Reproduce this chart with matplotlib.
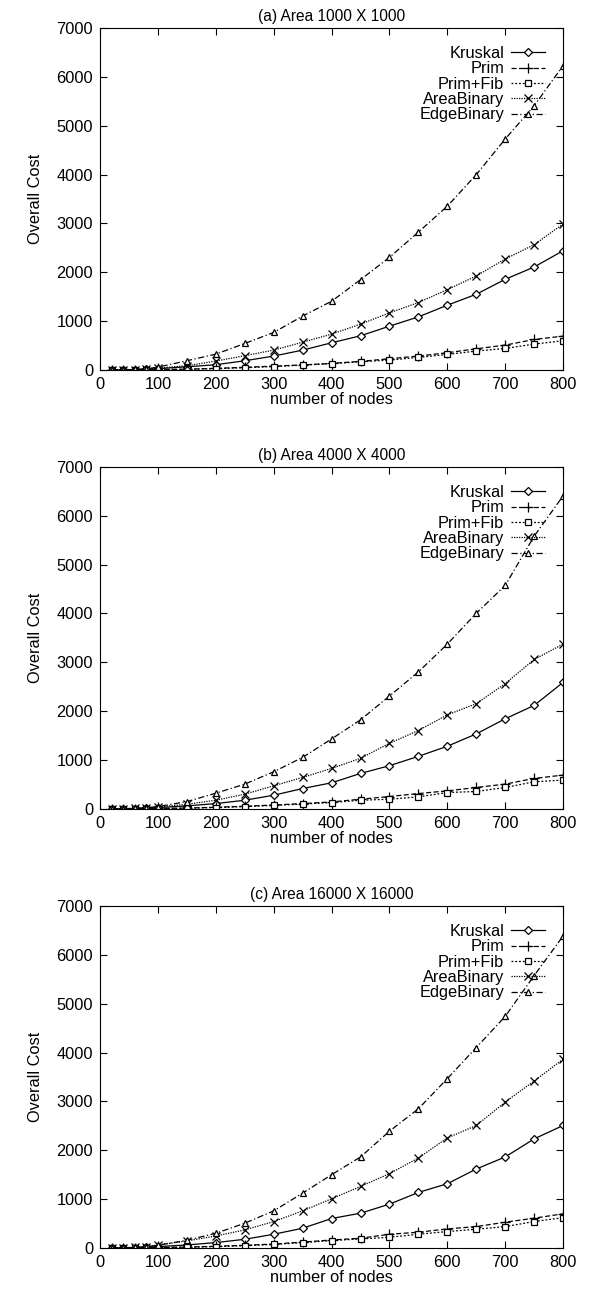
import matplotlib
matplotlib.use('Agg')
import matplotlib.pyplot as plt

plt.rcParams['font.family'] = ['Liberation Sans', 'DejaVu Sans']

nodes = [20, 40, 60, 80, 100, 150, 200, 250, 300, 350, 400, 450, 500,
         550, 600, 650, 700, 750, 800]
labels = ['Kruskal', 'Prim', 'Prim+Fib', 'AreaBinary', 'EdgeBinary']
titles = ['(a) Area 1000 X 1000', '(b) Area 4000 X 4000', '(c) Area 16000 X 16000']

# (a) Area 1000 X 1000
kruskal_a = [1, 4, 8, 14, 28, 67, 109, 190, 286, 408, 558, 701, 898, 1088, 1327, 1551, 1857, 2109, 2442]
prim_a = [1, 2, 4, 6, 10, 18, 35, 55, 80, 105, 136, 177, 231, 286, 354, 435, 510, 626, 694]
primfib_a = [1, 2, 3, 5, 8, 14, 28, 48, 72, 100, 130, 170, 204, 258, 320, 388, 442, 531, 599]
area_a = [2, 5, 10, 18, 40, 88, 184, 293, 408, 570, 735, 939, 1170, 1381, 1646, 1925, 2272, 2565, 2990]
edge_a = [2, 6, 12, 25, 60, 190, 326, 544, 769, 1105, 1408, 1850, 2306, 2823, 3354, 4000, 4728, 5408, 6230]

# (b) Area 4000 X 4000
kruskal_b = [1, 4, 8, 14, 28, 62, 110, 178, 281, 418, 535, 727, 885, 1077, 1283, 1536, 1845, 2119, 2590]
prim_b = [1, 2, 4, 6, 10, 18, 35, 55, 80, 110, 144, 199, 254, 315, 370, 439, 508, 624, 693]
primfib_b = [1, 2, 3, 5, 8, 14, 28, 48, 72, 100, 130, 178, 199, 247, 336, 357, 439, 556, 590]
area_b = [2, 5, 10, 18, 40, 96, 178, 302, 473, 645, 830, 1036, 1344, 1605, 1927, 2154, 2565, 3059, 3374]
edge_b = [2, 6, 12, 25, 48, 151, 322, 508, 761, 1056, 1433, 1824, 2311, 2805, 3374, 4005, 4575, 5583, 6406]

# (c) Area 16000 X 16000
kruskal_c = [1, 4, 8, 14, 28, 62, 110, 178, 281, 404, 603, 712, 897, 1137, 1315, 1616, 1863, 2233, 2507]
prim_c = [1, 2, 4, 6, 10, 18, 35, 55, 80, 120, 164, 199, 281, 322, 390, 438, 527, 610, 699]
primfib_c = [1, 2, 3, 5, 8, 14, 28, 48, 72, 110, 151, 185, 219, 281, 336, 384, 438, 541, 620]
area_c = [2, 5, 10, 18, 62, 144, 246, 370, 540, 760, 1007, 1260, 1521, 1842, 2253, 2507, 2986, 3418, 3863]
edge_c = [2, 6, 12, 25, 57, 157, 301, 507, 760, 1123, 1500, 1863, 2390, 2849, 3466, 4103, 4740, 5575, 6384]

panels = [
    [kruskal_a, prim_a, primfib_a, area_a, edge_a],
    [kruskal_b, prim_b, primfib_b, area_b, edge_b],
    [kruskal_c, prim_c, primfib_c, area_c, edge_c],
]

styles = [
    dict(linestyle='-', marker='D', markersize=4, markerfacecolor='white'),
    dict(linestyle=(0, (4, 2)), marker='+', markersize=6.5),
    dict(linestyle=(0, (1.5, 1.5)), marker='s', markersize=5, markerfacecolor='white'),
    dict(linestyle=(0, (1, 1)), marker='x', markersize=5.5),
    dict(linestyle=(0, (5, 2, 1, 2)), marker='^', markersize=5, markerfacecolor='white'),
]

fs = 11.8
fig = plt.figure(figsize=(5.89, 12.97), dpi=100)
bottoms = [0.7147, 0.3763, 0.0378]

for i in range(3):
    ax = fig.add_axes([0.170, bottoms[i], 0.786, 0.2637])
    for series, lab, st in zip(panels[i], labels, styles):
        ax.plot(nodes, series, color='black', linewidth=0.9,
                markeredgewidth=0.9, label=lab, **st)
    ax.set_xlim(0, 800)
    ax.set_ylim(0, 7000)
    ax.set_xticks(range(0, 801, 100))
    ax.set_yticks(range(0, 7001, 1000))
    ax.tick_params(direction='in', top=True, right=True, length=5,
                   labelsize=fs, width=0.8, pad=5)
    for sp in ax.spines.values():
        sp.set_linewidth(0.8)
    ax.set_title(titles[i], fontsize=11.2, pad=5)
    ax.set_xlabel('number of nodes', fontsize=fs, labelpad=0)
    ax.set_ylabel('Overall Cost', fontsize=fs, labelpad=10)
    ax.legend(loc='upper right', frameon=False, markerfirst=False,
              fontsize=fs, handlelength=2.1, labelspacing=0.02,
              borderaxespad=0.7, handletextpad=0.4)

plt.savefig('out.png', dpi=100)
plt.close('all')
